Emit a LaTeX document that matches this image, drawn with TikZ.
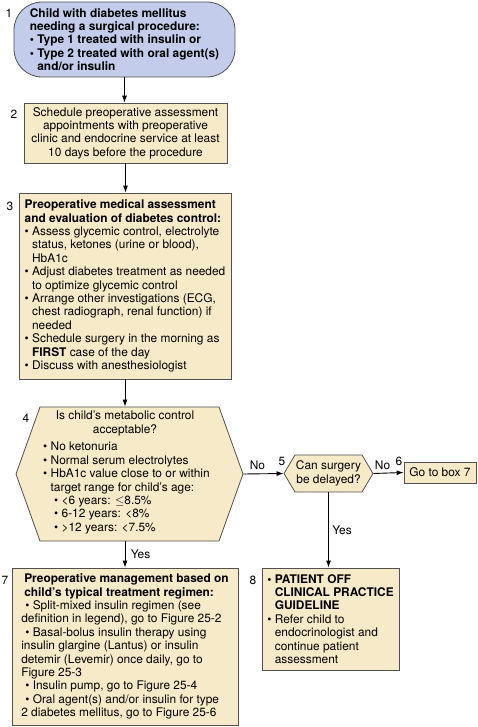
\documentclass[tikz,border=0pt]{standalone}
\usepackage{fontspec}
\setmainfont{TeX Gyre Heros}
\usepackage{tikz}
\usetikzlibrary{shapes,positioning,fit,arrows.meta}
\definecolor{boxtan}{RGB}{246,234,200}
\definecolor{boxblue}{RGB}{196,204,235}
\definecolor{boxline}{RGB}{80,80,80}
\newcommand{\blt}{\textbullet\ }
\newcommand{\bgap}{\phantom{\textbullet\ }}

\begin{document}
\begin{tikzpicture}[x=1pt,y=-1pt,>={Latex[length=7pt,width=5pt]},
    every node/.style={font=\fontsize{11.9}{13.4}\selectfont},
    box/.style={draw=boxline,fill=boxtan,line width=0.8pt,inner sep=0pt},
    hexbox/.style={box,signal,signal to=west and east},
    flow/.style={->,line width=0.9pt},
    num/.style={inner sep=0pt}]
  \useasboundingbox (0,0) rectangle (477,727);
          \node[box,fill=boxblue,rounded corners=28pt,minimum width=221pt,minimum height=75pt,align=left,font=\bfseries\fontsize{11.9}{13.4}\selectfont] (B1) at (124.5,39.5)
            {Child with diabetes mellitus\\ needing a surgical procedure:\\ \blt Type 1 treated with insulin or\\ \blt Type 2 treated with oral agent(s)\\ \bgap and/or insulin};
          \node[box,minimum width=203pt,minimum height=60pt,align=center] (B2) at (125.5,133)
            {Schedule preoperative assessment\\ appointments with preoperative\\ clinic and endocrine service at least\\ 10 days before the procedure};
          \node[box,minimum width=212pt,minimum height=186pt,align=left] (B3) at (125,286)
            {\textbf{Preoperative medical assessment}\\ \textbf{and evaluation of diabetes control:}\\
             \blt Assess glycemic control, electrolyte\\ \bgap status, ketones (urine or blood),\\ \bgap HbA1c\\
             \blt Adjust diabetes treatment as needed\\ \bgap to optimize glycemic control\\
             \blt Arrange other investigations (ECG,\\ \bgap chest radiograph, renal function) if\\ \bgap needed\\
             \blt Schedule surgery in the morning as\\ \bgap \textbf{FIRST} case of the day\\
             \blt Discuss with anesthesiologist};
          \node[hexbox,minimum width=227pt,minimum height=134pt,signal pointer angle=140.6] (B4) at (129.5,474) {};
          \node[align=center,inner sep=0pt] (B4q) at (125,423.5) {Is child's metabolic control\\ acceptable?};
          \node[align=left,inner sep=0pt,anchor=west] (B4b) at (43,488)
            {\blt No ketonuria\\ \blt Normal serum electrolytes\\ \blt HbA1c value close to or within\\ \bgap target range for child's age:\\
             \hspace*{11pt}\blt <6 years: $\leq$8.5\%\\ \hspace*{11pt}\blt 6-12 years: <8\%\\ \hspace*{11pt}\blt >12 years: <7.5\%};
          \node[hexbox,minimum width=89pt,minimum height=37pt,signal pointer angle=118.6,align=center] (B5) at (328.5,473.5) {Can surgery\\ be delayed?};
          \node[box,minimum width=72pt,minimum height=21pt] (B6) at (440,472.5) {Go to box 7};
          \node[box,minimum width=226pt,minimum height=157pt,align=left] (B7) at (125,646.5)
            {\hspace*{3pt}\textbf{Preoperative management based on}\\ \hspace*{3pt}\textbf{child's typical treatment regimen:}\\
             \hspace*{4pt}\blt Split-mixed insulin regimen (see\\ definition in legend), go to Figure 25-2\\
             \hspace*{4pt}\blt Basal-bolus insulin therapy using\\ insulin glargine (Lantus) or insulin\\ detemir (Levemir) once daily, go to\\ Figure 25-3\\
             \hspace*{4pt}\blt Insulin pump, go to Figure 25-4\\
             \hspace*{4pt}\blt Oral agent(s) and/or insulin for type\\ 2 diabetes mellitus, go to Figure 25-6};
          \node[box,minimum width=137pt,minimum height=102pt,align=left] (B8) at (330.5,619)
            {\textbf{\blt PATIENT OFF}\\ \bgap\textbf{CLINICAL PRACTICE}\\ \bgap\textbf{GUIDELINE}\\
             \blt Refer child to\\ \bgap endocrinologist and\\ \bgap continue patient\\ \bgap assessment};
          \node[num] (n1) at (9,13) {1};
          \node[num] (n2) at (14,114) {2};
          \node[num] (n3) at (10,206) {3};
          \node[num] (n4) at (26,418) {4};
          \node[num] (n5) at (282,461) {5};
          \node[num] (n6) at (399,461) {6};
          \node[num] (n7) at (5,580) {7};
          \node[num] (n8) at (253,580) {8};
          \draw[flow] (B1.south) -- (B1.south |- B2.north);
          \draw[flow] (B2.south) -- (B2.south |- B3.north);
          \draw[flow] (B3.south) -- (B3.south |- B4.north);
          \draw[flow] (B4.south -| B7.north) -- node[right,xshift=2pt] {Yes} (B7.north);
          \draw[flow] (B4.east) -- node[above,pos=0.35] {No} (B5.west);
          \draw[flow] (B5.east) -- node[above,pos=0.3] {No} (B6.west);
          \draw[flow] (B5.south) -- node[right] {Yes} (B5.south |- B8.north);
  \end{tikzpicture}
\end{document}
